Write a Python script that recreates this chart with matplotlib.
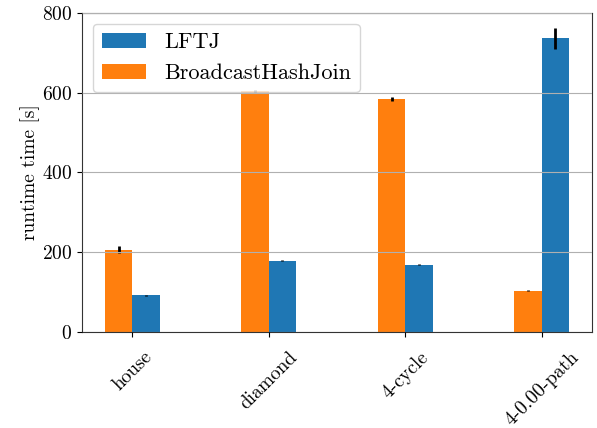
import matplotlib
matplotlib.use("Agg")
import matplotlib.pyplot as plt
import numpy as np

plt.rcParams['font.family'] = ['cmr10', 'DejaVu Serif']
plt.rcParams['axes.formatter.use_mathtext'] = True
plt.rcParams['mathtext.fontset'] = 'cm'

categories = ["house", "diamond", "4-cycle", "4-0.00-path"]
lftj = [92, 179, 169, 736]
lftj_err = [2, 1, 1, 26]
bhj = [207, 603, 584, 104]
bhj_err = [9, 3, 5, 1]

fig = plt.figure(figsize=(5.97, 4.28), dpi=100)
ax = fig.add_axes([0.137, 0.224, 0.855, 0.746])

x = np.arange(len(categories))
w = 0.2
ax.bar(x + w / 2, lftj, w, yerr=lftj_err, color="#1f77b4", label="LFTJ",
       error_kw=dict(elinewidth=2, ecolor="black", capsize=0))
ax.bar(x - w / 2, bhj, w, yerr=bhj_err, color="#ff7f0e", label="BroadcastHashJoin",
       error_kw=dict(elinewidth=2, ecolor="black", capsize=0))

ax.set_ylim(0, 800)
ax.set_yticks([0, 200, 400, 600, 800])
ax.set_xticks(x)
ax.set_xticklabels(categories, rotation=45, fontsize=14)
ax.tick_params(axis='x', pad=8)
ax.tick_params(axis='y', labelsize=14)
ax.set_ylabel("runtime time [s]", fontsize=14, labelpad=1)
for s in ax.spines.values():
    s.set_color("#333333")
ax.yaxis.grid(True, color="#b0b0b0")
ax.set_axisbelow(False)
ax.legend(loc="upper left", fontsize=16)

fig.savefig("out.png", dpi=100)
